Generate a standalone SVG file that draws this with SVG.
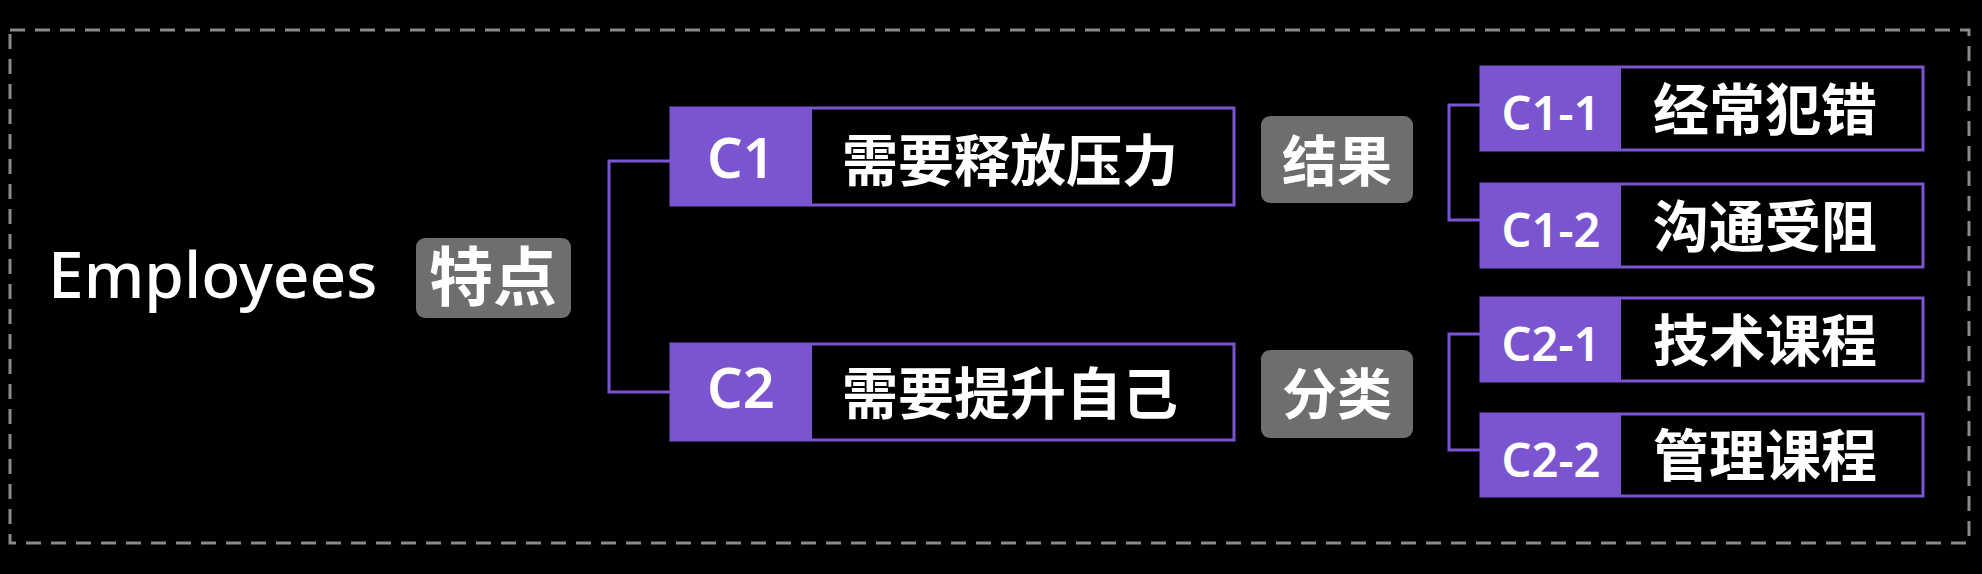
<svg xmlns="http://www.w3.org/2000/svg" width="1982" height="574" viewBox="0 0 1982 574">
<style>
.bg{fill:#000}
.frame{fill:none;stroke:#8a8a8a;stroke-width:3;stroke-dasharray:15 10}
.box{fill:#000;stroke:#7b55d0;stroke-width:3}
.tag{fill:#7b55d0}
.gray{fill:#6e6e6e}
.conn{fill:none;stroke:#7b55d0;stroke-width:3}
text{fill:#fff;font-family:"Noto Sans","Noto Sans CJK SC",sans-serif;font-weight:500}
.zh{font-family:"Noto Sans CJK SC",sans-serif;text-anchor:middle;font-weight:700}
.lab{text-anchor:middle;font-weight:600}
</style>
<rect class="bg" x="0" y="0" width="1982" height="574"/>
<rect class="frame" x="10" y="30" width="1959" height="513"/>
<g id="connectors">
<path class="conn" d="M670 161 H609 V392 H670"/>
<path class="conn" d="M1480 105 H1449 V220 H1480"/>
<path class="conn" d="M1480 334 H1449 V450 H1480"/>
</g>
<g id="root">
<text x="48" y="298" font-size="64">Employees</text>
<rect class="gray" x="416" y="238" width="155" height="80" rx="9"/>
<text class="zh" x="493" y="300" font-size="64">特点</text>
</g>
<g id="c1">
<rect class="box" x="671" y="108" width="563" height="97"/>
<rect class="tag" x="670" y="107" width="142" height="99"/>
<text class="lab" x="741" y="178" font-size="56">C1</text>
<text class="zh" x="1010" y="181" font-size="56">需要释放压力</text>
</g>
<g id="c2">
<rect class="box" x="671" y="344" width="563" height="96"/>
<rect class="tag" x="670" y="343" width="142" height="98"/>
<text class="lab" x="741" y="408" font-size="56">C2</text>
<text class="zh" x="1010" y="414" font-size="56">需要提升自己</text>
</g>
<g id="r1">
<rect class="gray" x="1261" y="116" width="152" height="87" rx="9"/>
<text class="zh" x="1337" y="181" font-size="55">结果</text>
</g>
<g id="r2">
<rect class="gray" x="1261" y="350" width="152" height="88" rx="9"/>
<text class="zh" x="1337" y="414" font-size="55">分类</text>
</g>
<g id="c1-1">
<rect class="box" x="1481" y="67" width="442" height="83"/>
<rect class="tag" x="1480" y="66" width="141" height="85"/>
<text class="lab" x="1551" y="130" font-size="47">C1-1</text>
<text class="zh" x="1765" y="130" font-size="56">经常犯错</text>
</g>
<g id="c1-2">
<rect class="box" x="1481" y="184" width="442" height="83"/>
<rect class="tag" x="1480" y="183" width="141" height="85"/>
<text class="lab" x="1551" y="247" font-size="47">C1-2</text>
<text class="zh" x="1765" y="247" font-size="56">沟通受阻</text>
</g>
<g id="c2-1">
<rect class="box" x="1481" y="298" width="442" height="83"/>
<rect class="tag" x="1480" y="297" width="141" height="85"/>
<text class="lab" x="1551" y="361" font-size="47">C2-1</text>
<text class="zh" x="1765" y="361" font-size="56">技术课程</text>
</g>
<g id="c2-2">
<rect class="box" x="1481" y="414" width="442" height="82"/>
<rect class="tag" x="1480" y="413" width="141" height="84"/>
<text class="lab" x="1551" y="477" font-size="47">C2-2</text>
<text class="zh" x="1765" y="476" font-size="56">管理课程</text>
</g>
</svg>
